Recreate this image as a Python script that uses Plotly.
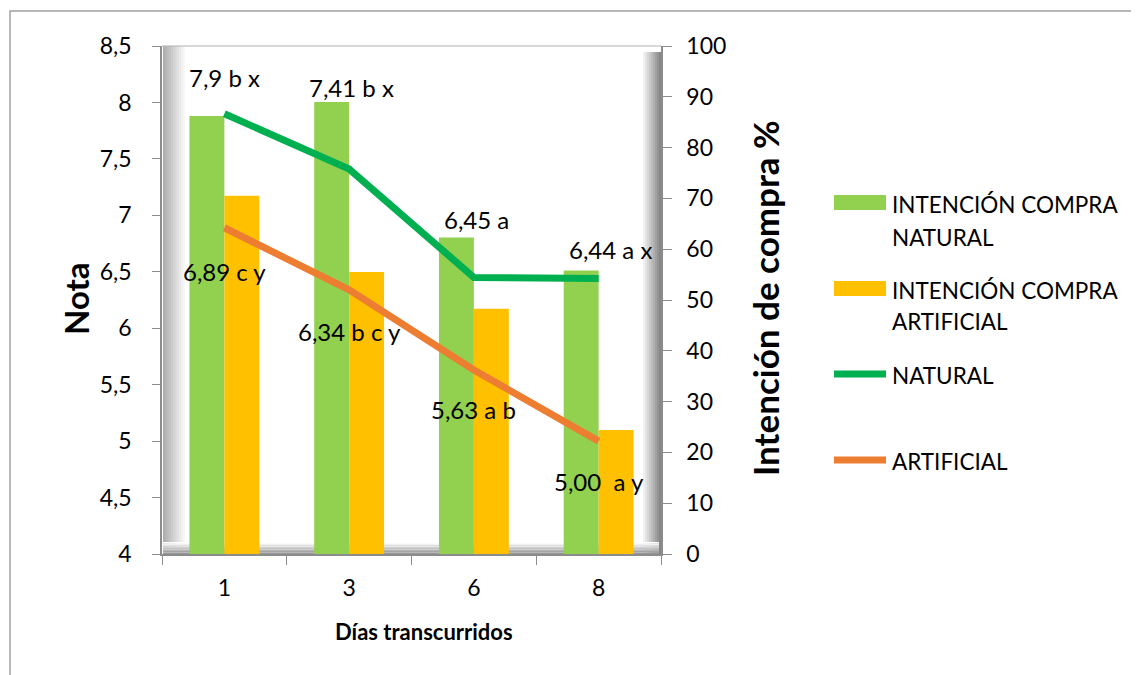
import plotly.graph_objects as go

# ---------------- data ----------------
dias = ["1", "3", "6", "8"]
intencion_natural = [86.2, 89.0, 62.3, 55.8]      # % (right axis, bars)
intencion_artificial = [70.5, 55.5, 48.3, 24.4]   # % (right axis, bars)
nota_natural = [7.90, 7.41, 6.45, 6.44]           # Nota (left axis, line)
nota_artificial = [6.89, 6.34, 5.63, 5.00]        # Nota (left axis, line)
labels_natural = ["7,9 b x", "7,41 b x", "6,45 a", "6,44 a x"]
labels_artificial = ["6,89 c y", "6,34 b c y", "5,63 a b", "5,00\u00a0 a y"]

# ---------------- style ----------------
W, H = 1139, 675
OFF = 8                                  # default page body margin
L, R, T, B = 162, 661, 46, 554          # plot area in screenshot pixels
FONT = "Lato"
C_BAR_NAT = "#92D050"
C_BAR_ART = "#FFC000"
C_LINE_NAT = "#00B050"
C_LINE_ART = "#ED7D31"
TICK = 23
LBL = 24


def px(x):
    return (x - L) / (R - L)


def py(y):
    return (B - y) / (B - T)


fig = go.Figure()
fig.add_trace(go.Bar(x=dias, y=intencion_natural, name="INTENCIÓN COMPRA NATURAL",
                     marker=dict(color=C_BAR_NAT, line=dict(width=0)), yaxis="y", showlegend=False))
fig.add_trace(go.Bar(x=dias, y=intencion_artificial, name="INTENCIÓN COMPRA ARTIFICIAL",
                     marker=dict(color=C_BAR_ART, line=dict(width=0)), yaxis="y", showlegend=False))
fig.add_trace(go.Scatter(x=dias, y=nota_natural, name="NATURAL", mode="lines",
                         line=dict(color=C_LINE_NAT, width=7), yaxis="y2", showlegend=False))
fig.add_trace(go.Scatter(x=dias, y=nota_artificial, name="ARTIFICIAL", mode="lines",
                         line=dict(color=C_LINE_ART, width=7), yaxis="y2", showlegend=False))

shapes = []
# outer chart border (extends beyond the visible frame right/bottom)
shapes.append(dict(type="rect", xref="paper", yref="paper",
                   x0=px(10), x1=px(W + 10), y0=py(H + 10), y1=py(11),
                   line=dict(color="#A0A0A0", width=1.5), layer="below"))


def grad(n, c0, c1, i):
    t = i / max(n - 1, 1)
    r = int(c0[0] + (c1[0] - c0[0]) * t)
    g = int(c0[1] + (c1[1] - c0[1]) * t)
    b = int(c0[2] + (c1[2] - c0[2]) * t)
    return f"rgb({r},{g},{b})"


# left wall gradient
n = 12
for i in range(n):
    shapes.append(dict(type="rect", xref="paper", yref="paper",
                       x0=px(163 + i * 2), x1=px(165 + i * 2), y0=py(548), y1=py(T),
                       fillcolor=grad(n, (175, 175, 175), (255, 255, 255), i),
                       line=dict(width=0), layer="below"))
# right wall gradient
n3 = 10
for i in range(n3):
    shapes.append(dict(type="rect", xref="paper", yref="paper",
                       x0=px(R - 2 - i * 2), x1=px(R - i * 2), y0=py(B), y1=py(T + 6),
                       fillcolor=grad(n3, (135, 135, 135), (255, 255, 255), i),
                       line=dict(width=0), layer="below"))
# floor gradient
n2 = 8
for i in range(n2):
    shapes.append(dict(type="rect", xref="paper", yref="paper",
                       x0=px(163), x1=px(R - 2), y0=py(B - i * 1.5), y1=py(B - 1.5 - i * 1.5),
                       fillcolor=grad(n2, (150, 150, 150), (255, 255, 255), i),
                       line=dict(width=0), layer="below"))
# top border of the plot box
shapes.append(dict(type="line", xref="paper", yref="paper",
                   x0=px(L), x1=px(R), y0=py(T), y1=py(T),
                   line=dict(color="#B0B0B0", width=1), layer="below"))

# ---------- manual legend ----------
shapes.append(dict(type="rect", xref="paper", yref="paper",
                   x0=px(834), x1=px(886), y0=py(210), y1=py(195),
                   fillcolor=C_BAR_NAT, line=dict(width=0)))
shapes.append(dict(type="rect", xref="paper", yref="paper",
                   x0=px(834), x1=px(886), y0=py(296), y1=py(281),
                   fillcolor=C_BAR_ART, line=dict(width=0)))
shapes.append(dict(type="line", xref="paper", yref="paper",
                   x0=px(834), x1=px(886), y0=py(374), y1=py(374),
                   line=dict(color=C_LINE_NAT, width=7)))
shapes.append(dict(type="line", xref="paper", yref="paper",
                   x0=px(834), x1=px(886), y0=py(460), y1=py(460),
                   line=dict(color=C_LINE_ART, width=7)))

annotations = []
leg_items = [("INTENCIÓN COMPRA", 204), ("NATURAL", 237),
             ("INTENCIÓN COMPRA", 290), ("ARTIFICIAL", 322),
             ("NATURAL", 375), ("ARTIFICIAL", 461)]
for txt, yy in leg_items:
    annotations.append(dict(text=txt, xref="paper", yref="paper", x=px(890), y=py(yy),
                            xanchor="left", yanchor="middle", showarrow=False,
                            font=dict(family=FONT, size=22.5, color="black")))

# data labels
nat_off = [(0, 36), (2, 82), (3, 58), (12, 29)]
art_off = [(0, -44), (0, -42), (0, -40), (0, -40)]
for i, (v, t, (dx, dy)) in enumerate(zip(nota_natural, labels_natural, nat_off)):
    annotations.append(dict(text=t, x=i, y=v, xref="x", yref="y2", showarrow=False,
                            xshift=dx, yshift=dy, font=dict(family=FONT, size=LBL, color="black")))
for i, (v, t, (dx, dy)) in enumerate(zip(nota_artificial, labels_artificial, art_off)):
    annotations.append(dict(text=t, x=i, y=v, xref="x", yref="y2", showarrow=False,
                            xshift=dx, yshift=dy, font=dict(family=FONT, size=LBL, color="black")))

# axis titles
annotations.append(dict(text="<b>Nota</b>", xref="paper", yref="paper", x=px(76), y=py(299),
                        textangle=-90, showarrow=False, xanchor="center", yanchor="middle",
                        font=dict(family=FONT, size=33, color="black")))
annotations.append(dict(text="<b>Intención de compra %</b>", xref="paper", yref="paper",
                        x=px(765), y=py(298), textangle=-90, showarrow=False,
                        xanchor="center", yanchor="middle",
                        font=dict(family=FONT, size=35, color="black")))
annotations.append(dict(text="<b>Días transcurridos</b>", xref="paper", yref="paper",
                        x=px(424), y=py(631), showarrow=False, xanchor="center", yanchor="middle",
                        font=dict(family=FONT, size=22, color="black")))

fig.update_layout(
    width=W - OFF, height=H - OFF,
    margin=dict(l=L - OFF, r=W - R, t=T - OFF, b=H - B, pad=0),
    paper_bgcolor="white", plot_bgcolor="rgba(0,0,0,0)",
    separators=",.",
    barmode="group", bargap=0.44, bargroupgap=0,
    showlegend=False,
    font=dict(family=FONT, size=TICK, color="black"),
    xaxis=dict(type="category", categoryorder="array", categoryarray=dias, range=[-0.5, 3.5],
               showline=True, linecolor="#8C8C8C", linewidth=1.5,
               ticks="outside", ticklen=9, tickcolor="#8C8C8C", tickson="boundaries",
               ticklabelstandoff=13, showgrid=False, zeroline=False,
               tickfont=dict(family=FONT, size=TICK, color="black")),
    yaxis=dict(side="right", range=[0, 100], dtick=10, showgrid=False, zeroline=False,
               showline=True, linecolor="#8C8C8C", linewidth=1.5,
               ticks="outside", ticklen=9, tickcolor="#8C8C8C", ticklabelstandoff=10,
               tickfont=dict(family=FONT, size=TICK, color="black")),
    yaxis2=dict(side="left", overlaying="y", range=[4, 8.5], dtick=0.5, showgrid=False,
                zeroline=False, showline=True, linecolor="#8C8C8C", linewidth=1.5,
                ticks="outside", ticklen=8, tickcolor="#8C8C8C", ticklabelstandoff=16,
                tickfont=dict(family=FONT, size=TICK, color="black")),
    shapes=shapes,
    annotations=annotations,
)

fig.write_html("out.html")
